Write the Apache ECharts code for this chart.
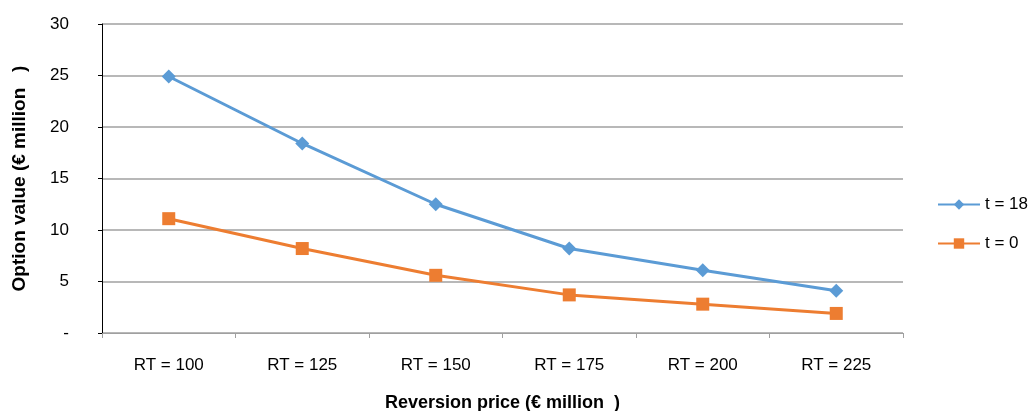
<!DOCTYPE html>
<html>
<head>
<meta charset="utf-8">
<script src="https://cdn.jsdelivr.net/npm/echarts@6/dist/echarts.min.js"></script>
<style>html,body{margin:0;padding:0;background:#fff}#c{width:1033px;height:411px}</style>
</head>
<body>
<div id="c"></div>
<script>
var categories = ['RT = 100', 'RT = 125', 'RT = 150', 'RT = 175', 'RT = 200', 'RT = 225'];
var seriesT18 = [24.9, 18.4, 12.5, 8.2, 6.1, 4.1];
var seriesT0 = [11.1, 8.2, 5.6, 3.7, 2.8, 1.9];
var seriesNames = ['t = 18', 't = 0'];
var yTicks = [0, 5, 10, 15, 20, 25, 30];

var chart = echarts.init(document.getElementById('c'));
chart.setOption({
  animation: false,
  textStyle: { fontFamily: 'Liberation Sans, Arial, sans-serif' },
  grid: { left: 102, right: 130, top: 24, bottom: 78, containLabel: false, outerBoundsMode: 'none' },
  legend: {
    orient: 'vertical',
    left: 932,
    top: 191,
    itemWidth: 42,
    itemHeight: 13,
    itemGap: 22,
    textStyle: { fontSize: 17, color: '#000', fontFamily: 'Liberation Sans, Arial, sans-serif' },
    data: seriesNames
  },
  xAxis: {
    type: 'category',
    data: categories,
    boundaryGap: true,
    name: 'Reversion price (€ million  )',
    nameLocation: 'middle',
    nameGap: 61,
    nameTextStyle: { fontSize: 18, fontWeight: 'bold', color: '#000' },
    axisLine: { lineStyle: { color: '#a0a0a0', width: 1 } },
    axisTick: { show: true, length: 5, interval: 0, lineStyle: { color: '#a0a0a0' } },
    axisLabel: { fontSize: 17, color: '#000', margin: 24, interval: 0 },
    splitLine: { show: false }
  },
  yAxis: {
    type: 'value',
    min: 0,
    max: 30,
    interval: 5,
    name: 'Option value (€ million   )',
    nameLocation: 'middle',
    nameGap: 73,
    nameRotate: 90,
    nameTextStyle: { fontSize: 19, fontWeight: 'bold', color: '#000' },
    axisLine: { show: true, lineStyle: { color: '#000', width: 1 } },
    axisTick: { show: true, length: 4, lineStyle: { color: '#000' } },
    axisLabel: {
      fontSize: 17, color: '#000', margin: 33,
      formatter: function (v) { return yTicks.indexOf(v) === 0 ? '-' : String(v); }
    },
    splitLine: { show: true, lineStyle: { color: '#a0a0a0', width: 1.5 } }
  },
  series: [
    {
      name: seriesNames[0],
      type: 'line',
      data: seriesT18,
      symbol: 'diamond',
      symbolSize: 14,
      itemStyle: { color: '#5B9BD5' },
      lineStyle: { color: '#5B9BD5', width: 3 }
    },
    {
      name: seriesNames[1],
      type: 'line',
      data: seriesT0,
      symbol: 'rect',
      symbolSize: 13,
      itemStyle: { color: '#ED7D31' },
      lineStyle: { color: '#ED7D31', width: 3 }
    }
  ]
});
</script>
</body>
</html>
